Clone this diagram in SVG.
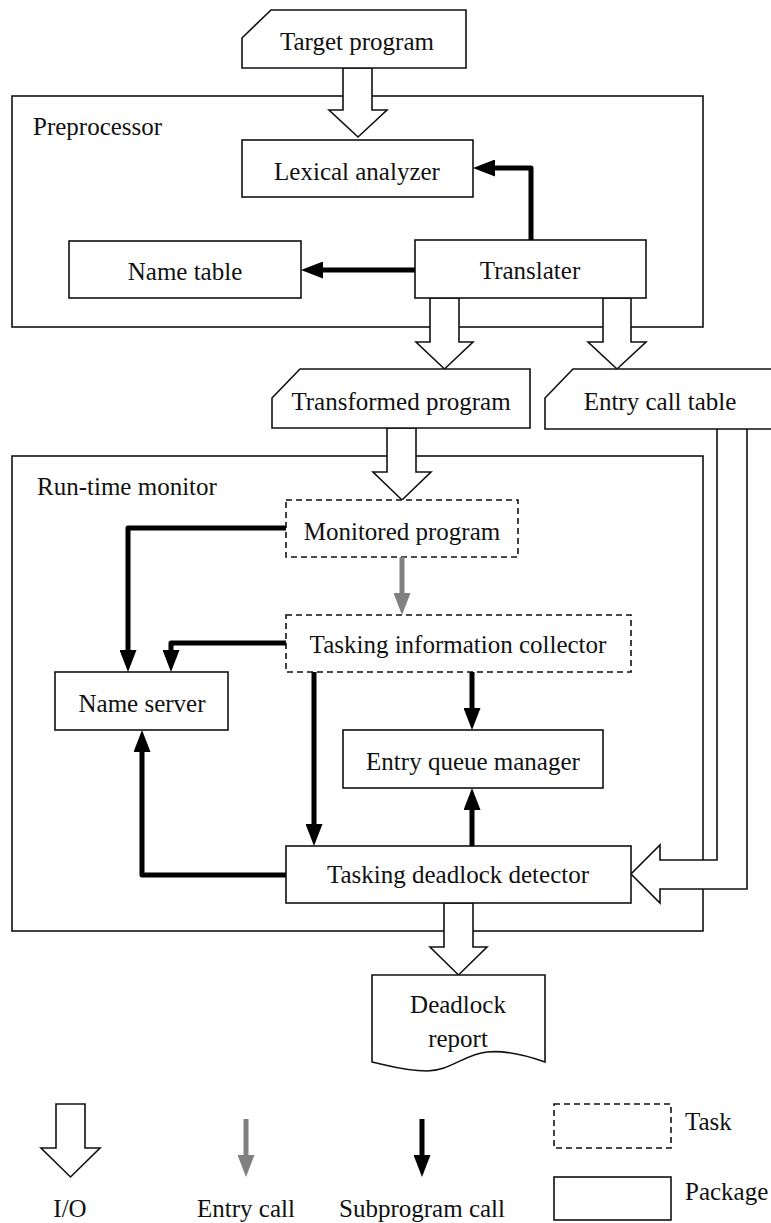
<svg xmlns="http://www.w3.org/2000/svg" width="771" height="1223" viewBox="0 0 771 1223" font-family="'Liberation Serif', 'Times New Roman', 'DejaVu Serif', serif">
  <style>
    text { font-family: 'Liberation Serif', 'Times New Roman', 'DejaVu Serif', serif; font-size: 25px; fill: #111; }
    .c { text-anchor: middle; }
    .box { fill: #fff; stroke: #111; stroke-width: 1.6; }
    .frame { fill: none; stroke: #111; stroke-width: 1.6; }
    .task { fill: #fff; stroke: #111; stroke-width: 1.6; stroke-dasharray: 6 4; }
    .io { fill: #fff; stroke: #111; stroke-width: 1.6; stroke-linejoin: miter; }
    .call { fill: none; stroke: #000; stroke-width: 5; stroke-linejoin: round; marker-end: url(#headBlack); }
    .entry { fill: none; stroke: #808080; stroke-width: 5; marker-end: url(#headGray); }
  </style>
  <defs>
    <marker id="headBlack" viewBox="0 0 22 17" refX="0" refY="8.5" markerWidth="22" markerHeight="17" markerUnits="userSpaceOnUse" orient="auto">
      <path d="M0,0 L22,8.5 L0,17 Z" fill="#000"/>
    </marker>
    <marker id="headGray" viewBox="0 0 22 17" refX="0" refY="8.5" markerWidth="22" markerHeight="17" markerUnits="userSpaceOnUse" orient="auto">
      <path d="M0,0 L22,8.5 L0,17 Z" fill="#808080"/>
    </marker>
  </defs>

  <!-- package frames -->
  <g id="preprocessor">
    <rect class="frame" x="12" y="96" width="691" height="231"/>
    <text x="33" y="135">Preprocessor</text>
  </g>
  <g id="run-time-monitor">
    <rect class="frame" x="12" y="456" width="691" height="475"/>
    <text x="37" y="495">Run-time monitor</text>
  </g>

  <!-- I/O flows (hollow block arrows) -->
  <g id="io-flows">
    <path class="io" d="M343,68 V110 H329 L358,137 L387,110 H372 V68 Z"/>
    <path class="io" d="M430,298 V342 H416 L444.5,369 L473,342 H459 V298 Z"/>
    <path class="io" d="M603,298 V342 H588 L617,369 L646,342 H631 V298 Z"/>
    <path class="io" d="M387,428 V472 H373 L402,500 L431,472 H416 V428 Z"/>
    <path class="io" d="M717,429 V860 H660 V845 L631,874 L660,903 V889 H747 V429"/>
    <path class="io" d="M444,903 V947 H430 L458.5,975 L487,947 H473 V903 Z"/>
  </g>

  <!-- files -->
  <g id="target-program">
    <path class="box" d="M242,38 L271,10 H466 V68 H242 Z"/>
    <text class="c" x="357" y="50">Target program</text>
  </g>
  <g id="transformed-program">
    <path class="box" d="M272,398 L300,369 H530 V428 H272 Z"/>
    <text class="c" x="401" y="410">Transformed program</text>
  </g>
  <g id="entry-call-table">
    <path class="box" d="M771,429 H545 V398 L573,369 H771"/>
    <text class="c" x="660" y="410">Entry call table</text>
  </g>
  <g id="deadlock-report">
    <path class="box" d="M372,975 H545 V1062 C525,1055 505,1050 487,1052 C465,1054 450,1071 427,1071 C405,1071 390,1066 372,1062 Z"/>
    <text class="c" x="458" y="1013">Deadlock</text>
    <text class="c" x="458" y="1047">report</text>
  </g>

  <!-- preprocessor components -->
  <g id="lexical-analyzer">
    <rect class="box" x="242" y="140" width="231" height="57"/>
    <text class="c" x="357" y="180">Lexical analyzer</text>
  </g>
  <g id="name-table">
    <rect class="box" x="69" y="241" width="232" height="57"/>
    <text class="c" x="185" y="280">Name table</text>
  </g>
  <g id="translater">
    <rect class="box" x="415" y="240" width="231" height="58"/>
    <text class="c" x="530" y="279">Translater</text>
  </g>

  <!-- run-time monitor components -->
  <g id="monitored-program">
    <rect class="task" x="286" y="500" width="232" height="57"/>
    <text class="c" x="402" y="540">Monitored program</text>
  </g>
  <g id="tasking-information-collector">
    <rect class="task" x="286" y="615" width="345" height="57"/>
    <text class="c" x="458" y="653">Tasking information collector</text>
  </g>
  <g id="name-server">
    <rect class="box" x="55" y="672" width="173" height="58"/>
    <text class="c" x="142" y="712">Name server</text>
  </g>
  <g id="entry-queue-manager">
    <rect class="box" x="343" y="730" width="260" height="58"/>
    <text class="c" x="473" y="770">Entry queue manager</text>
  </g>
  <g id="tasking-deadlock-detector">
    <rect class="box" x="286" y="846" width="345" height="57"/>
    <text class="c" x="458" y="883">Tasking deadlock detector</text>
  </g>

  <!-- entry calls and subprogram calls -->
  <g id="connectors">
    <path class="call" d="M531,240 V168 H495"/>
    <path class="call" d="M415,270 H323"/>
    <path class="call" d="M286,528 H128 V650"/>
    <path class="call" d="M286,643 H171 V650"/>
    <path class="call" d="M314,672 V824"/>
    <path class="call" d="M472,672 V708"/>
    <path class="call" d="M472,846 V810"/>
    <path class="call" d="M286,875 H142 V752"/>
    <path class="entry" d="M402,557 V593"/>
  </g>

  <!-- legend -->
  <g id="legend">
    <path class="io" d="M56,1104 V1148 H41 L70.5,1177 L100,1148 H85 V1104 Z"/>
    <text class="c" x="70" y="1217">I/O</text>
    <path class="entry" d="M246,1119 V1155"/>
    <text class="c" x="246" y="1217">Entry call</text>
    <path class="call" d="M422,1119 V1155"/>
    <text class="c" x="422" y="1217">Subprogram call</text>
    <rect class="task" x="554" y="1104" width="117" height="44"/>
    <text x="685" y="1130">Task</text>
    <rect class="box" x="554" y="1177" width="117" height="43"/>
    <text x="685" y="1200">Package</text>
  </g>
</svg>
